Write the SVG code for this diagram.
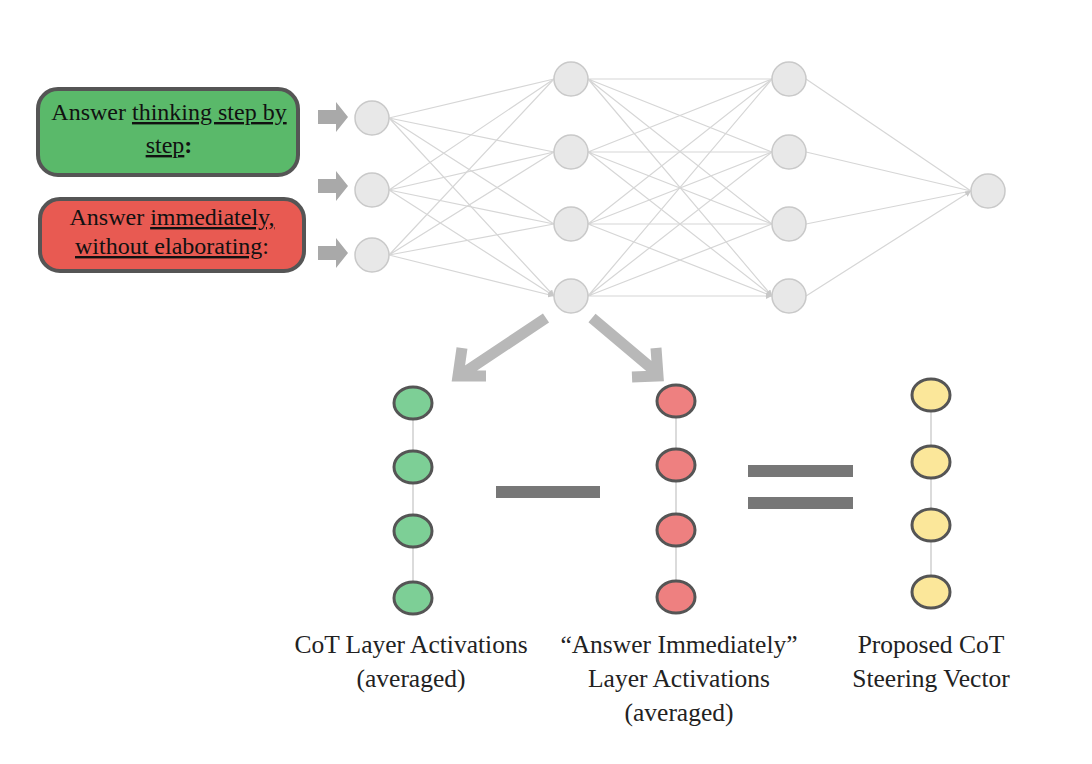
<svg xmlns="http://www.w3.org/2000/svg" width="1092" height="764" viewBox="0 0 1092 764">
<defs>
<marker id="ah" markerWidth="6" markerHeight="6" refX="6" refY="3" orient="auto" markerUnits="userSpaceOnUse"><path d="M0,0L6,3L0,6z" fill="#c8c8c8"/></marker>
<style>
.e{stroke:#d6d6d6;stroke-width:1.2;fill:none}
.n{fill:#e8e8e8;stroke:#c9c9c9;stroke-width:1.5}
.t{font-family:"Liberation Serif",serif;font-size:24px;fill:#111}
.l{font-family:"Liberation Serif",serif;font-size:25.5px;fill:#222;text-anchor:middle}
.v{stroke:#d0d0d0;stroke-width:1.5}
.g{fill:#7dcf96;stroke:#555;stroke-width:3}
.r{fill:#ee8080;stroke:#555;stroke-width:3}
.y{fill:#fbe79a;stroke:#555;stroke-width:3}
.ba{fill:#a9a9a9}
.big{stroke:#b8b8b8;stroke-width:11;fill:none;stroke-linecap:butt}
</style>
</defs>
<rect width="1092" height="764" fill="#fff"/>
<g id="connectors">
<g class="e" marker-end="url(#ah)">
<path d="M389,118L554,79M389,118L554,152M389,118L554,224M389,118L554,296"/>
<path d="M389,190L554,79M389,190L554,152M389,190L554,224M389,190L554,296"/>
<path d="M389,255L554,79M389,255L554,152M389,255L554,224M389,255L554,296"/>
<path d="M588,79L772,79M588,79L772,152M588,79L772,224M588,79L772,296"/>
<path d="M588,152L772,79M588,152L772,152M588,152L772,224M588,152L772,296"/>
<path d="M588,224L772,79M588,224L772,152M588,224L772,224M588,224L772,296"/>
<path d="M588,296L772,79M588,296L772,152M588,296L772,224M588,296L772,296"/>
<path d="M806,79L971,191M806,152L971,191M806,224L971,191M806,296L971,191"/>
</g>
<path class="ba" d="M318,110h18v-8l12,15l-12,15v-8h-18z"/>
<path class="ba" d="M318,179h18v-8l12,15l-12,15v-8h-18z"/>
<path class="ba" d="M318,246h18v-8l12,15l-12,15v-8h-18z"/>
<path class="big" d="M546,318L462,374M462,348L458,376L486,376"/>
<path class="big" d="M592,318L656,372M632,377L658,376L656,348"/>
<path class="v" d="M413,403V598M676,401V597M931,395V592"/>
</g>
<g id="box-cot">
<rect x="38" y="89" width="260" height="86" rx="20" fill="#5ab96a" stroke="#555" stroke-width="4"/>
<text class="t" x="169" y="120" text-anchor="middle">Answer <tspan text-decoration="underline">thinking step by</tspan></text>
<text class="t" x="169" y="153" text-anchor="middle"><tspan text-decoration="underline">step</tspan><tspan font-weight="bold">:</tspan></text>
</g>
<g id="box-imm">
<rect x="40" y="199" width="264" height="72" rx="20" fill="#e85a52" stroke="#555" stroke-width="4"/>
<text class="t" x="172" y="225" text-anchor="middle">Answer <tspan text-decoration="underline">immediately,</tspan></text>
<text class="t" x="172" y="254" text-anchor="middle"><tspan text-decoration="underline">without elaborating</tspan>:</text>
</g>
<g id="net">
<circle class="n" cx="372" cy="118" r="17"/><circle class="n" cx="372" cy="190" r="17"/><circle class="n" cx="372" cy="255" r="17"/>
<circle class="n" cx="571" cy="79" r="17"/><circle class="n" cx="571" cy="152" r="17"/><circle class="n" cx="571" cy="224" r="17"/><circle class="n" cx="571" cy="296" r="17"/>
<circle class="n" cx="789" cy="79" r="17"/><circle class="n" cx="789" cy="152" r="17"/><circle class="n" cx="789" cy="224" r="17"/><circle class="n" cx="789" cy="296" r="17"/>
<circle class="n" cx="988" cy="191" r="17"/>
</g>
<g id="cot-col">
<ellipse class="g" cx="413" cy="403" rx="19" ry="16"/><ellipse class="g" cx="413" cy="467" rx="19" ry="16"/><ellipse class="g" cx="413" cy="531" rx="19" ry="16"/><ellipse class="g" cx="413" cy="598" rx="19" ry="16"/>
<text class="l" x="411" y="653">CoT Layer Activations</text>
<text class="l" x="411" y="687">(averaged)</text>
</g>
<g id="minus"><rect x="496" y="486" width="104" height="12" fill="#777"/></g>
<g id="imm-col">
<ellipse class="r" cx="676" cy="401" rx="19" ry="16"/><ellipse class="r" cx="676" cy="465" rx="19" ry="16"/><ellipse class="r" cx="676" cy="530" rx="19" ry="16"/><ellipse class="r" cx="676" cy="597" rx="19" ry="16"/>
<text class="l" x="679" y="653">“Answer Immediately”</text>
<text class="l" x="679" y="687">Layer Activations</text>
<text class="l" x="679" y="721">(averaged)</text>
</g>
<g id="equals"><rect x="748" y="465" width="105" height="12" fill="#777"/><rect x="748" y="497" width="105" height="12" fill="#777"/></g>
<g id="steer-col">
<ellipse class="y" cx="931" cy="395" rx="19" ry="16"/><ellipse class="y" cx="931" cy="462" rx="19" ry="16"/><ellipse class="y" cx="931" cy="525" rx="19" ry="16"/><ellipse class="y" cx="931" cy="592" rx="19" ry="16"/>
<text class="l" x="931" y="653">Proposed CoT</text>
<text class="l" x="931" y="687">Steering Vector</text>
</g>
</svg>
